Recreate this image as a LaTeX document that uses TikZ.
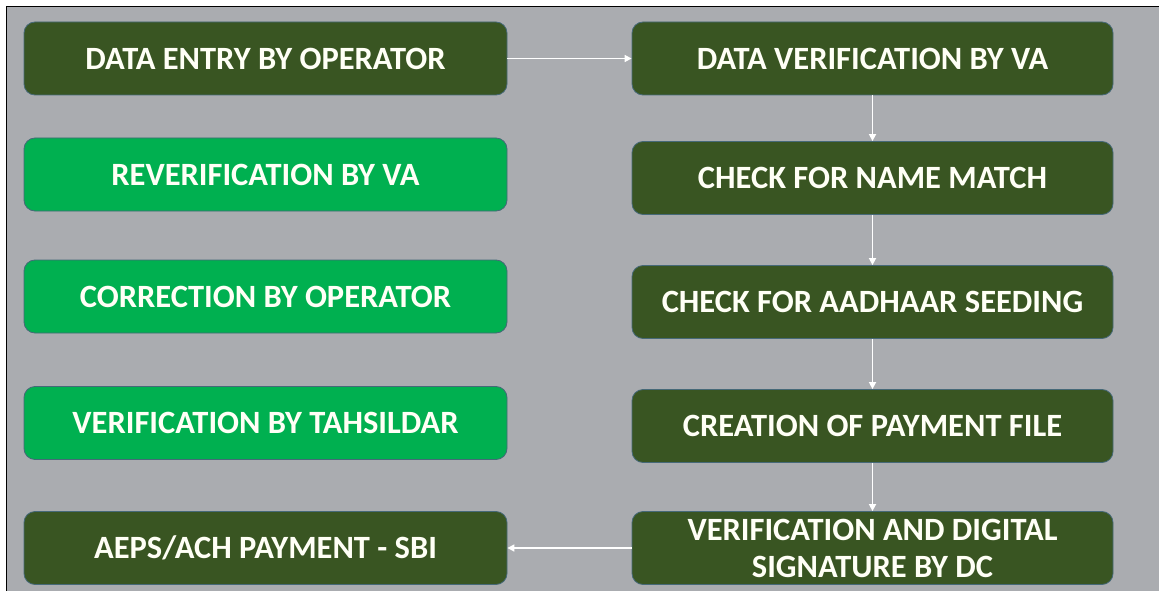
\documentclass[tikz,border=0pt]{standalone}
\usepackage{fontspec}
\setmainfont{Carlito}
\usetikzlibrary{arrows.meta}
\definecolor{panelgray}{RGB}{170,172,176}
\definecolor{darkgreen}{RGB}{57,85,34}
\definecolor{brightgreen}{RGB}{0,176,80}
\definecolor{boxedge}{RGB}{70,105,120}
\definecolor{labelwhite}{RGB}{255,255,246}
\tikzset{
  stage/.style={draw=boxedge, line width=0.8pt, rounded corners=11pt,
    minimum height=73pt, text=labelwhite, align=center,
    font=\fontsize{32.5}{37}\selectfont\bfseries, inner sep=0pt},
  darkstage/.style={stage, fill=darkgreen},
  lightstage/.style={stage, fill=brightgreen},
  leftcol/.style={minimum width=483pt},
  rightcol/.style={minimum width=481pt},
  flow/.style={draw=white, line width=1.6pt, -{Triangle[length=7pt,width=7pt]}}
}
\begin{document}
\begin{tikzpicture}[x=1pt,y=-1pt]
  % page and framed panel
  \useasboundingbox (0,0) rectangle (1159,591);
  \fill[white] (0,0) rectangle (1159,591);
  \fill[panelgray] (6.5,6.5) rectangle (1159,591);
  \draw[black, line width=1.6pt] (6.5,591) -- (6.5,6.5) -- (1159,6.5);

  % left column
  \node[darkstage, leftcol]  (entry)  at (265.5,58.5)  {DATA ENTRY BY OPERATOR};
  \node[lightstage, leftcol] (rever)  at (265.5,174.5) {REVERIFICATION BY VA};
  \node[lightstage, leftcol] (corr)   at (265.5,296.5) {CORRECTION BY OPERATOR};
  \node[lightstage, leftcol] (tahs)   at (265.5,423)   {VERIFICATION BY TAHSILDAR};
  \node[darkstage, leftcol]  (aeps)   at (265.5,548)   {AEPS/ACH PAYMENT - SBI};

  % right column
  \node[darkstage, rightcol] (dver)   at (872.5,58.5)  {DATA VERIFICATION BY VA};
  \node[darkstage, rightcol] (name)   at (872.5,178)   {CHECK FOR NAME MATCH};
  \node[darkstage, rightcol] (aadh)   at (872.5,302)   {CHECK FOR AADHAAR SEEDING};
  \node[darkstage, rightcol] (file)   at (872.5,426)   {CREATION OF PAYMENT FILE};
  \node[darkstage, rightcol] (dcsig)  at (872.5,548)   {VERIFICATION AND DIGITAL\\SIGNATURE BY DC};

  % process flow
  \draw[flow] (entry.east) -- (dver.west);
  \draw[flow] (dver.south) -- (name.north);
  \draw[flow] (name.south) -- (aadh.north);
  \draw[flow] (aadh.south) -- (file.north);
  \draw[flow] (file.south) -- (dcsig.north);
  \draw[flow] (dcsig.west) -- (aeps.east);
\end{tikzpicture}
\end{document}
